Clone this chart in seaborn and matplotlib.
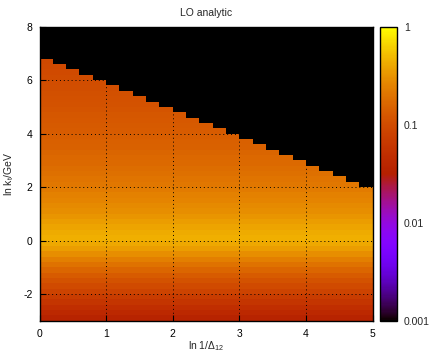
import numpy as np
import pandas as pd
import matplotlib
matplotlib.use("Agg")
import matplotlib.pyplot as plt
from matplotlib.colors import LogNorm
from matplotlib.ticker import LogLocator, NullFormatter
import seaborn as sns

# ln 1/Delta_12 bins (left edges, width 0.2) and the kinematic limit on ln kt for each bin
ln_inv_delta_lo = [0.0, 0.2, 0.4, 0.6, 0.8, 1.0, 1.2, 1.4, 1.6, 1.8,
                   2.0, 2.2, 2.4, 2.6, 2.8, 3.0, 3.2, 3.4, 3.6, 3.8,
                   4.0, 4.2, 4.4, 4.6, 4.8]
ln_kt_limit = [6.8, 6.6, 6.4, 6.2, 6.0, 5.8, 5.6, 5.4, 5.2, 5.0,
               4.8, 4.6, 4.4, 4.2, 4.0, 3.8, 3.6, 3.4, 3.2, 3.0,
               2.8, 2.6, 2.4, 2.2, 2.0]

# ln kt/GeV bins (lower edges, width 0.2) and the LO emission density in each
ln_kt_lo = [-3.0, -2.8, -2.6, -2.4, -2.2, -2.0, -1.8, -1.6, -1.4, -1.2,
            -1.0, -0.8, -0.6, -0.4, -0.2, 0.0, 0.2, 0.4, 0.6, 0.8,
            1.0, 1.2, 1.4, 1.6, 1.8, 2.0, 2.2, 2.4, 2.6, 2.8,
            3.0, 3.2, 3.4, 3.6, 3.8, 4.0, 4.2, 4.4, 4.6, 4.8,
            5.0, 5.2, 5.4, 5.6, 5.8, 6.0, 6.2, 6.4, 6.6]
density = [0.036, 0.042, 0.050, 0.060, 0.070, 0.082, 0.097, 0.113, 0.133, 0.160,
           0.195, 0.235, 0.290, 0.350, 0.410, 0.440, 0.420, 0.380, 0.350, 0.320,
           0.295, 0.275, 0.255, 0.240, 0.225, 0.210, 0.200, 0.190, 0.180, 0.172,
           0.165, 0.158, 0.151, 0.145, 0.140, 0.135, 0.130, 0.126, 0.122, 0.118,
           0.114, 0.111, 0.108, 0.105, 0.102, 0.100, 0.097, 0.095, 0.093]

bin_w = 0.2
x_range = (0.0, 5.0)
y_range = (-3.0, 8.0)

# one row per filled cell, placed at the cell centre
rows = []
for xl, lim in zip(ln_inv_delta_lo, ln_kt_limit):
    for yl, rho in zip(ln_kt_lo, density):
        if yl + bin_w <= lim + 1e-9:
            rows.append((xl + bin_w / 2, yl + bin_w / 2, rho))
df = pd.DataFrame(rows, columns=["ln_inv_delta", "ln_kt", "rho"])

x_edges = np.linspace(x_range[0], x_range[1], 26)
y_edges = np.linspace(y_range[0], y_range[1], 56)

sns.set_style("ticks")
plt.rcParams["font.family"] = ["Liberation Sans", "DejaVu Sans"]
plt.rcParams["mathtext.fontset"] = "custom"
plt.rcParams["mathtext.rm"] = "Liberation Sans"
plt.rcParams["mathtext.it"] = "Liberation Sans:italic"
plt.rcParams["axes.unicode_minus"] = False
fs = 7.5

fig = plt.figure(figsize=(4.31, 3.54), dpi=100)
ax = fig.add_axes([0.0917, 0.0941, 0.7726, 0.8305])
cax = fig.add_axes([0.8817, 0.0941, 0.0394, 0.8305])
ax.set_facecolor("black")

sns.histplot(data=df, x="ln_inv_delta", y="ln_kt", weights="rho",
             bins=(x_edges, y_edges), cmap="gnuplot", thresh=0,
             cbar=False, ax=ax)
mesh = ax.collections[0]
mesh.set_norm(LogNorm(vmin=1e-3, vmax=1.0))
mesh.set_cmap("gnuplot")
mesh.set_edgecolor("face")
mesh.set_linewidth(0.0)

ax.set_xlim(*x_range)
ax.set_ylim(*y_range)
ax.set_xticks([0, 1, 2, 3, 4, 5])
ax.set_yticks([-2, 0, 2, 4, 6, 8])
ax.tick_params(direction="in", length=4, width=0.8, labelsize=fs,
               pad=6, colors="black")
ax.tick_params(axis="y", pad=5)
ax.grid(True, color="black", linestyle=(0, (1, 3)), linewidth=0.7)
ax.set_axisbelow(False)
for sp in ax.spines.values():
    sp.set_visible(True)
    sp.set_linewidth(1.0)
    sp.set_color("black")

ax.set_title("LO analytic", fontsize=fs, pad=8)
ax.set_xlabel(r"ln 1/$\mathrm{\Delta}_{12}$", fontsize=fs)
ax.set_ylabel(r"ln k$_\mathrm{t}$/GeV", fontsize=fs)
ax.xaxis.set_label_coords(0.5, -0.064)
ax.yaxis.set_label_coords(-0.07, 0.5)

cb = fig.colorbar(mesh, cax=cax)
cb.outline.set_linewidth(1.0)
cb.outline.set_edgecolor("black")
cax.yaxis.set_major_locator(LogLocator(base=10, numticks=10))
cax.yaxis.set_minor_locator(LogLocator(base=10, subs=np.arange(2, 10), numticks=10))
cax.yaxis.set_minor_formatter(NullFormatter())
cb.set_ticks([0.001, 0.01, 0.1, 1])
cb.set_ticklabels(["0.001", "0.01", "0.1", "1"])
cax.tick_params(which="both", direction="in", left=True, right=True,
                labelsize=fs, width=0.7, pad=5)
cax.tick_params(which="major", length=4)
cax.tick_params(which="minor", length=2)

fig.savefig("out.png", dpi=100)
